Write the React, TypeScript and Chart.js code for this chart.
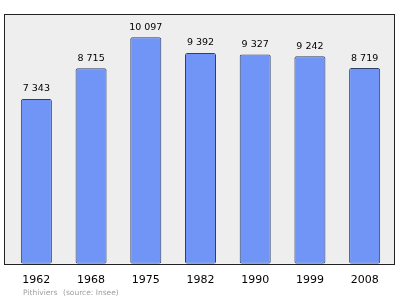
import React, { useEffect, useRef } from "react";
import { Chart, registerables } from "chart.js";

Chart.register(...registerables);

const years = ["1962", "1968", "1975", "1982", "1990", "1999", "2008"];
const population = [7343, 8715, 10097, 9392, 9327, 9242, 8719];
const valueLabels = ["7 343", "8 715", "10 097", "9 392", "9 327", "9 242", "8 719"];
const footTown = "Pithiviers";
const footSource = "(source: Insee)";

const areaPlugin = {
  id: "areaBg",
  beforeDraw(chart: any) {
    const { ctx, chartArea: a } = chart;
    ctx.save();
    ctx.fillStyle = "#eeeeee";
    ctx.fillRect(a.left - 5, a.top, a.right - a.left + 7, a.bottom - a.top);
    ctx.restore();
  },
  afterDraw(chart: any) {
    const { ctx, chartArea: a } = chart;
    ctx.save();
    ctx.strokeStyle = "#222222";
    ctx.lineWidth = 1;
    ctx.strokeRect(Math.round(a.left - 5) + 0.5, Math.round(a.top) + 0.5, Math.round(a.right - a.left + 7), Math.round(a.bottom - a.top));
    // value labels
    const meta = chart.getDatasetMeta(0);
    ctx.fillStyle = "#000000";
    ctx.font = "9.5px 'DejaVu Sans'";
    ctx.textAlign = "center";
    ctx.textBaseline = "middle";
    meta.data.forEach((bar: any, i: number) => {
      ctx.fillText(valueLabels[i], bar.x, bar.y - 10);
    });
    // footnote
    ctx.fillStyle = "#a0a0a0";
    ctx.font = "7.5px 'DejaVu Sans'";
    ctx.textAlign = "left";
    ctx.fillText(footTown, 23, 293);
    ctx.fillText(footSource, 63, 293);
    ctx.restore();
  },
};

export default function App() {
  const ref = useRef<HTMLCanvasElement>(null);
  useEffect(() => {
    const chart = new Chart(ref.current!, {
      type: "bar",
      data: {
        labels: years,
        datasets: [
          {
            data: population,
            backgroundColor: "#7095f6",
            borderColor: "#2f3f66",
            borderWidth: 1,
            borderRadius: 2,
            borderSkipped: false,
            barPercentage: 0.567,
            categoryPercentage: 1,
          },
        ],
      },
      options: {
        animation: false,
        responsive: false,
        layout: { padding: { left: 9, right: 8, top: 14, bottom: 10 } },
        plugins: { legend: { display: false }, tooltip: { enabled: false } },
        scales: {
          x: {
            grid: { display: false },
            border: { display: false },
            ticks: { color: "#000000", font: { family: "'DejaVu Sans'", size: 11 }, padding: 2 },
          },
          y: { display: false, min: 0, max: 11130 },
        },
      },
      plugins: [areaPlugin],
    });
    return () => chart.destroy();
  }, []);
  return (
    <div style={{ position: "fixed", left: 0, top: 0, width: 400, height: 299, background: "#fff" }}>
      <canvas ref={ref} width={400} height={299} />
    </div>
  );
}
